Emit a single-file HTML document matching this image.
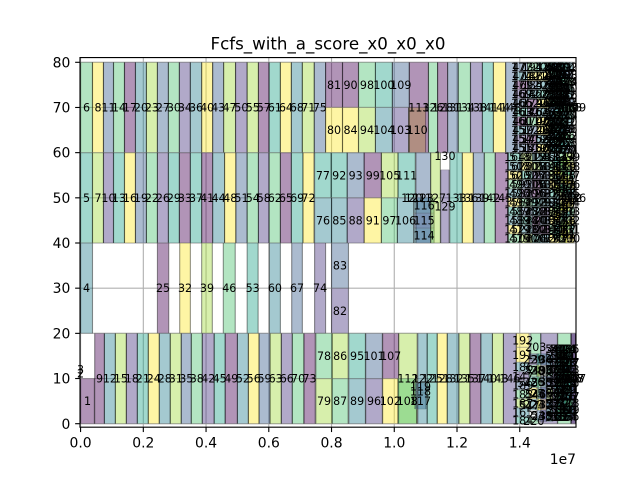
<!DOCTYPE html>
<html>
<head>
<meta charset="utf-8">
<title>Fcfs_with_a_score_x0_x0_x0</title>
<style>
html,body{margin:0;padding:0;background:#fff}
svg{display:block}
text{font-family:"DejaVu Sans","Liberation Sans",sans-serif;fill:#000}
</style>
</head>
<body>
<svg id="chart" width="640" height="480" viewBox="0 0 640 480" xmlns="http://www.w3.org/2000/svg">
<defs><clipPath id="plot-clip"><rect x="80" y="57.6" width="496" height="369.6"/></clipPath></defs>
<rect x="0" y="0" width="640" height="480" fill="#fff"/>
<g id="grid"></g>
<g id="bars" clip-path="url(#plot-clip)"></g>
<g id="labels"></g>
<g id="axes"></g>
<text x="328" y="49.5" font-size="16.67" text-anchor="middle">Fcfs_with_a_score_x0_x0_x0</text>
<text x="576" y="464" font-size="13.9" text-anchor="end">1e7</text>
</svg>
<script>
// Axis ticks
const xTicks = [0, 2, 4, 6, 8, 10, 12, 14];
const xTickLabels = ['0.0', '0.2', '0.4', '0.6', '0.8', '1.0', '1.2', '1.4'];
const yTicks = [0, 10, 20, 30, 40, 50, 60, 70, 80];
const yTickLabels = ['0', '10', '20', '30', '40', '50', '60', '70', '80'];

// Each task: [id, start (millions), end (millions), low, high, colour group]
const rowTop = [
[6,0,0.38,60,80,5],[8,0.38,0.73,60,80,7],[11,0.73,1.05,60,80,2],[14,1.05,1.40,60,80,5],[17,1.40,1.75,60,80,0],
[20,1.75,2.10,60,80,3],[23,2.10,2.45,60,80,6],[27,2.45,2.80,60,80,2],[30,2.80,3.15,60,80,5],[34,3.15,3.50,60,80,1],
[36,3.50,3.86,60,80,3],[40,3.86,4.21,60,80,7],[43,4.21,4.56,60,80,2],[47,4.56,4.94,60,80,6],[50,4.94,5.31,60,80,1],
[55,5.31,5.67,60,80,6],[57,5.67,6.01,60,80,0],[61,6.01,6.37,60,80,4],[64,6.37,6.72,60,80,7],[68,6.72,7.07,60,80,3],
[71,7.07,7.45,60,80,6],[75,7.45,7.81,60,80,2],
[81,7.81,8.35,70,80,0],[90,8.35,8.86,70,80,0],[98,8.86,9.40,70,80,5],[100,9.40,9.94,70,80,4],[109,9.94,10.48,70,80,2],
[80,7.81,8.35,60,70,7],[84,8.35,8.86,60,70,7],[94,8.86,9.40,60,70,6],[104,9.40,9.94,60,70,3],[103,9.94,10.46,60,70,1],
[110,10.46,11.0,60,70,7],[113,10.48,11.09,60,80,0],
[126,11.09,11.38,60,80,5],[128,11.38,11.70,60,80,0],[131,11.70,12.04,60,80,2],[134,12.04,12.43,60,80,5],
[138,12.43,12.81,60,80,1],[141,12.81,13.16,60,80,4],[144,13.16,13.55,60,80,7],[148,13.55,13.87,60,80,2]
];
const rowMiddle = [
[5,0,0.38,40,60,4],[7,0.38,0.73,40,60,6],[10,0.73,1.05,40,60,1],[13,1.05,1.40,40,60,4],[16,1.40,1.75,40,60,7],
[19,1.75,2.10,40,60,2],[22,2.10,2.45,40,60,5],[26,2.45,2.80,40,60,1],[29,2.80,3.15,40,60,4],[33,3.15,3.50,40,60,0],
[37,3.50,3.86,40,60,4],[41,3.86,4.21,40,60,0],[44,4.21,4.59,40,60,3],[48,4.59,4.95,40,60,7],[51,4.95,5.31,40,60,2],
[54,5.31,5.67,40,60,5],[58,5.67,6.01,40,60,1],[62,6.01,6.37,40,60,5],[65,6.37,6.72,40,60,0],[69,6.72,7.09,40,60,4],
[72,7.09,7.44,40,60,7],
[77,7.46,7.99,50,60,4],[92,7.99,8.50,50,60,4],[93,8.50,9.04,50,60,2],[99,9.04,9.59,50,60,0],[105,9.59,10.12,50,60,6],[111,10.12,10.67,50,60,4],
[76,7.46,8.00,40,50,3],[85,8.00,8.50,40,50,3],[88,8.50,9.04,40,50,1],[91,9.04,9.59,40,50,7],[97,9.59,10.10,40,50,5],[106,10.10,10.62,40,50,3],
[114,10.63,11.27,40,43.3,3],[115,10.63,11.27,43.3,46.6,2],[116,10.63,11.27,46.6,50,3],
[120,10.50,10.62,50,50,3],[121,10.60,10.74,50,50,3],[123,10.69,11.16,40,60,2],[127,11.16,11.47,40,60,6],
[130,11.48,11.75,59.3,59.3,1],[129,11.48,11.75,40,56.2,1],
[133,11.77,12.17,40,60,4],[136,12.17,12.52,40,60,7],[139,12.52,12.87,40,60,2],[142,12.87,13.22,40,60,5],[145,13.22,13.63,40,60,0]
];
const rowLower = [
[4,0,0.38,20,40,3],[25,2.45,2.81,20,40,0],[32,3.16,3.50,20,40,7],[39,3.86,4.20,20,40,6],[46,4.55,4.93,20,40,5],
[53,5.31,5.66,20,40,4],[60,6.02,6.37,20,40,3],[67,6.73,7.07,20,40,2],[74,7.46,7.81,20,40,1],
[83,8.00,8.54,30,40,2],[82,8.00,8.54,20,30,1]
];
const rowBottom = [
[1,0,0.44,0,10,0],[2,0,0,11.1,11.1,3],[3,0,0,12,12,3],
[9,0.45,0.76,0,20,0],[12,0.76,1.11,0,20,3],[15,1.11,1.46,0,20,6],[18,1.46,1.81,0,20,1],[21,1.81,2.16,0,20,4],
[24,2.16,2.51,0,20,7],[28,2.51,2.86,0,20,3],[31,2.86,3.21,0,20,6],[35,3.21,3.53,0,20,2],[38,3.53,3.88,0,20,5],
[42,3.88,4.26,0,20,1],[45,4.26,4.61,0,20,4],[49,4.61,5.00,0,20,0],[52,5.00,5.35,0,20,3],[56,5.35,5.69,0,20,7],
[59,5.69,6.04,0,20,2],[63,6.04,6.40,0,20,6],[66,6.40,6.75,0,20,1],[70,6.75,7.12,0,20,5],[73,7.12,7.48,0,20,0],
[78,7.50,8.02,10,20,5],[86,8.02,8.53,10,20,6],[95,8.55,9.08,10,20,4],[101,9.09,9.62,10,20,2],[107,9.63,10.14,10,20,0],
[79,7.50,8.02,0,10,6],[87,8.02,8.53,0,10,5],[89,8.55,9.08,0,10,3],[96,9.09,9.62,0,10,1],[102,9.63,10.12,0,10,7],
[112,10.14,10.73,0,20,6],[108,10.12,10.71,0,10,5],
[117,10.66,11.01,3.25,6.8,2],[118,10.66,11.01,6.8,7.4,2],[119,10.66,11.01,7.4,9,2],
[122,10.75,11.05,0,20,3],[125,11.05,11.37,0,20,4],[128,11.37,11.69,0,20,7],[132,11.69,12.06,0,20,3],[135,12.06,12.41,0,20,6],
[137,12.41,12.76,0,20,0],[140,12.76,13.13,0,20,3],[143,13.13,13.48,0,20,6],[146,13.48,13.89,0,20,1]
];
const denseTopLeft = [
[151,13.87,14.25,60,62,2],[178,14.25,14.55,60,62,1],[196,14.55,14.95,60,62,7],[221,14.95,15.1,60,62,3],
[154,13.87,14.25,62,64,1],[175,14.25,14.55,62,64,0],[197,14.55,14.95,62,64,3],[224,14.95,15.1,62,64,4],
[157,13.87,14.25,64,66,3],[172,14.25,14.55,64,66,2],[214,14.55,14.95,64,66,7],[227,14.95,15.1,64,66,3],
[160,13.87,14.25,66,68,0],[170,14.25,14.55,66,68,5],[198,14.55,14.95,66,68,7],[230,14.95,15.1,66,68,4],
[163,13.87,14.25,68,70,4],[176,14.25,14.55,68,70,1],[205,14.55,14.95,68,70,3],[233,14.95,15.1,68,70,3],
[166,13.87,14.25,70,72,2],[179,14.25,14.55,70,72,0],[222,14.55,14.95,70,72,7],[236,14.95,15.1,70,72,4],
[169,13.87,14.25,72,74,1],[182,14.25,14.55,72,74,3],[208,14.55,14.95,72,74,4],[239,14.95,15.1,72,74,3],
[171,13.87,14.25,74,76,0],[185,14.25,14.55,74,76,2],[209,14.55,14.95,74,76,3],[242,14.95,15.1,74,76,4],
[174,13.87,14.25,76,78,3],[188,14.25,14.55,76,78,7],[211,14.55,14.95,76,78,7],[245,14.95,15.1,76,78,3],
[177,13.87,14.25,78,80,2],[191,14.25,14.55,78,80,5],[206,14.55,14.95,78,80,4],[248,14.95,15.1,78,80,4]
];
const denseTopRight = [
[251,14.98,15.24,60,61.5,4],[252,15.11,15.37,60,61.5,3],[253,15.24,15.5,60,61.5,5],[254,15.3,15.7,60,61.5,2],
[255,14.98,15.24,61.5,63,3],[256,15.11,15.37,61.5,63,5],[257,15.24,15.5,61.5,63,2],[258,15.3,15.7,61.5,63,4],
[259,14.98,15.24,63,64.5,2],[260,15.11,15.37,63,64.5,4],[261,15.24,15.5,63,64.5,3],[262,15.3,15.7,63,64.5,5],
[263,14.98,15.24,64.5,66,5],[264,15.11,15.37,64.5,66,3],[265,15.24,15.5,64.5,66,4],[266,15.3,15.7,64.5,66,2],
[267,14.98,15.24,66,67.5,4],[268,15.11,15.37,66,67.5,2],[269,15.24,15.5,66,67.5,5],[270,15.3,15.7,66,67.5,3],
[271,14.98,15.24,67.5,69,3],[272,15.11,15.37,67.5,69,5],[273,15.24,15.5,67.5,69,2],[274,15.3,15.7,67.5,69,4],
[275,14.98,15.24,69,70.5,2],[276,15.11,15.37,69,70.5,4],[277,15.24,15.5,69,70.5,3],[278,15.3,15.7,69,70.5,5],
[279,14.98,15.24,70.5,72,5],[280,15.11,15.37,70.5,72,3],[281,15.24,15.5,70.5,72,4],[282,15.3,15.7,70.5,72,2],
[283,14.98,15.24,72,73.5,4],[284,15.11,15.37,72,73.5,2],[285,15.24,15.5,72,73.5,5],[286,15.3,15.7,72,73.5,3],
[287,14.98,15.24,73.5,75,3],[288,15.11,15.37,73.5,75,5],[289,15.24,15.5,73.5,75,2],[290,15.3,15.7,73.5,75,4],
[291,14.98,15.24,75,76.5,2],[292,15.11,15.37,75,76.5,4],[293,15.24,15.5,75,76.5,3],[294,15.3,15.7,75,76.5,5],
[295,14.98,15.24,76.5,78,5],[296,15.11,15.37,76.5,78,3],[297,15.24,15.5,76.5,78,4],[298,15.3,15.7,76.5,78,2],
[299,14.98,15.24,78,80,4],[300,15.11,15.37,78,80,2],[301,15.24,15.5,78,80,5],[302,15.3,15.7,78,80,3]
];
const denseMiddle = [
[150,13.63,14.05,40,42,5],[190,14.05,14.4,40,42,6],[204,14.4,14.65,40,42,4],[232,14.65,14.95,40,42,3],[310,14.95,15.25,40,42,7],[320,15.25,15.5,40,42,6],[330,15.45,15.73,40,42,7],
[152,13.63,14.05,42,44,7],[193,14.05,14.4,42,44,3],[207,14.4,14.65,42,44,1],[234,14.65,14.95,42,44,0],[311,14.95,15.25,42,44,5],[321,15.25,15.5,42,44,7],[331,15.45,15.73,42,44,4],
[153,13.63,14.05,44,46,3],[194,14.05,14.4,44,46,4],[210,14.4,14.65,44,46,0],[235,14.65,14.95,44,46,2],[312,14.95,15.25,44,46,7],[322,15.25,15.5,44,46,3],[332,15.45,15.73,44,46,7],
[155,13.63,14.05,46,48,4],[195,14.05,14.4,46,48,2],[212,14.4,14.65,46,48,3],[237,14.65,14.95,46,48,1],[313,14.95,15.25,46,48,6],[323,15.25,15.5,46,48,7],[333,15.45,15.73,46,48,5],
[156,13.63,14.05,48,50,7],[199,14.05,14.4,48,50,5],[213,14.4,14.65,48,50,4],[238,14.65,14.95,48,50,3],[314,14.95,15.25,48,50,3],[324,15.25,15.5,48,50,7],[334,15.45,15.73,48,50,7],
[158,13.63,14.05,50,52,3],[200,14.05,14.4,50,52,1],[215,14.4,14.65,50,52,0],[240,14.65,14.95,50,52,2],[315,14.95,15.25,50,52,4],[325,15.25,15.5,50,52,6],[335,15.45,15.73,50,52,3],
[159,13.63,14.05,52,54,5],[201,14.05,14.4,52,54,2],[216,14.4,14.65,52,54,0],[241,14.65,14.95,52,54,3],[316,14.95,15.25,52,54,7],[326,15.25,15.5,52,54,3],[336,15.45,15.73,52,54,7],
[161,13.63,14.05,54,56,7],[202,14.05,14.4,54,56,4],[217,14.4,14.65,54,56,1],[243,14.65,14.95,54,56,2],[317,14.95,15.25,54,56,6],[327,15.25,15.5,54,56,7],[337,15.45,15.73,54,56,4],
[162,13.63,14.05,56,58,3],[180,14.05,14.4,56,58,7],[218,14.4,14.65,56,58,6],[244,14.65,14.95,56,58,3],[318,14.95,15.25,56,58,5],[328,15.25,15.5,56,58,4],[338,15.45,15.73,56,58,7],
[164,13.63,14.05,58,60,4],[181,14.05,14.4,58,60,6],[219,14.4,14.65,58,60,3],[246,14.65,14.95,58,60,4],[319,14.95,15.25,58,60,3],[329,15.25,15.5,58,60,5],[339,15.45,15.73,58,60,6],
[340,15.1,15.35,41,43,4],[341,15.3,15.6,41,43,7],[342,15.1,15.35,43,45,3],[343,15.3,15.6,43,45,6],
[344,15.1,15.35,45,47,7],[345,15.3,15.6,45,47,3],[346,15.1,15.35,47,49,5],[347,15.3,15.6,47,49,7],
[348,15.1,15.35,51,53,6],[349,15.3,15.6,51,53,4],[350,15.1,15.35,53,55,3],[351,15.3,15.6,53,55,7],
[352,15.1,15.35,55,57,7],[353,15.3,15.6,55,57,5],[354,15.1,15.35,57,59,4],[355,15.3,15.6,57,59,6]
];
const denseBottomLeft = [
[192,13.89,14.3,16.9,20,7],[191,13.89,14.3,13.6,16.9,7],[186,13.89,14.3,11.5,13.6,3],[147,13.89,14.3,9.5,11.5,1],
[189,13.89,14.3,7.5,9.5,2],[183,13.89,14.3,5.5,7.5,5],[187,13.89,14.3,3.5,5.5,6],[165,13.89,14.3,1.5,3.5,3],[184,13.89,14.3,0,1.5,4],
[203,14.35,14.67,14,20,5],
[220,14.3,14.6,0,1.2,5],[223,14.3,14.6,3,5.5,3],[225,14.3,14.6,5.5,8,7],[226,14.3,14.6,8,10.5,4],[228,14.3,14.6,10.5,13,5],[229,14.3,14.6,13,15.5,1],
[231,14.55,14.85,0.5,3,2],[247,14.55,14.85,3,5.5,7],[249,14.55,14.85,5.5,8,3],[250,14.55,14.85,8,10.5,5],[303,14.55,14.85,10.5,13,6],[304,14.55,14.85,13,15.5,4],
[305,14.67,15.2,0,20,1],[306,15.21,15.63,0,20,5],[307,15.64,15.78,0,20,2],[308,15.64,15.78,0,20,0],
[356,14.85,15.05,0.5,3,4],[357,14.85,15.05,3,5.5,3],[358,14.85,15.05,5.5,8,6],[359,14.85,15.05,8,10.5,2],[360,14.85,15.05,10.5,13,5],[361,14.85,15.05,13,15.5,3]
];
const denseBottomRight = [
[362,15.1,15.34,0.8,2.3,4],[363,15.22,15.48,0.8,2.3,3],[364,15.35,15.61,0.8,2.3,5],[365,15.44,15.7,0.8,2.3,2],
[366,15.1,15.34,2.3,3.8,3],[367,15.22,15.48,2.3,3.8,5],[368,15.35,15.61,2.3,3.8,2],[369,15.44,15.7,2.3,3.8,4],
[370,15.1,15.34,3.8,5.3,2],[371,15.22,15.48,3.8,5.3,4],[372,15.35,15.61,3.8,5.3,3],[373,15.44,15.7,3.8,5.3,5],
[374,15.1,15.34,5.3,6.8,5],[375,15.22,15.48,5.3,6.8,3],[376,15.35,15.61,5.3,6.8,4],[377,15.44,15.7,5.3,6.8,2],
[378,15.1,15.34,6.8,8.3,4],[379,15.22,15.48,6.8,8.3,2],[380,15.35,15.61,6.8,8.3,5],[381,15.44,15.7,6.8,8.3,3],
[382,15.1,15.34,8.3,9.8,3],[383,15.22,15.48,8.3,9.8,5],[384,15.35,15.61,8.3,9.8,2],[385,15.44,15.7,8.3,9.8,4],
[386,15.1,15.34,9.8,11.3,2],[387,15.22,15.48,9.8,11.3,4],[388,15.35,15.61,9.8,11.3,3],[389,15.44,15.7,9.8,11.3,5],
[390,15.1,15.34,11.3,12.8,5],[391,15.22,15.48,11.3,12.8,3],[392,15.35,15.61,11.3,12.8,4],[393,15.44,15.7,11.3,12.8,2],
[394,15.1,15.34,12.8,14.3,4],[395,15.22,15.48,12.8,14.3,2],[396,15.35,15.61,12.8,14.3,5],[397,15.44,15.7,12.8,14.3,3],
[398,15.1,15.34,14.3,15.8,3],[399,15.22,15.48,14.3,15.8,5],[400,15.35,15.61,14.3,15.8,2],[401,15.44,15.7,14.3,15.8,4],
[402,15.1,15.34,15.8,17.3,2],[403,15.22,15.48,15.8,17.3,4],[404,15.35,15.61,15.8,17.3,3],[405,15.44,15.7,15.8,17.3,5]
];
const overflowLabels = [
[406,15.45,15.45,70,70,3],[407,15.55,15.55,70,70,3],[408,15.65,15.65,70,70,3],[409,15.78,15.78,70,70,3],
[410,15.45,15.45,50,50,3],[411,15.55,15.55,50,50,3],[412,15.65,15.65,50,50,3],[436,15.78,15.78,50,50,3],
[414,15.45,15.45,10,10,3],[415,15.55,15.55,10,10,3],[416,15.65,15.65,10,10,3],[417,15.78,15.78,10,10,3]
];
// Very short tasks, too thin to see a box: [id, time, time, level, level, colour group]
const thinTopRight = [
[418,15.16,15.16,60.7,60.7,3],[419,15.3,15.3,60.7,60.7,3],[420,15.44,15.44,60.7,60.7,3],
[421,15.16,15.16,62.2,62.2,3],[422,15.3,15.3,62.2,62.2,3],[423,15.44,15.44,62.2,62.2,3],
[424,15.16,15.16,63.7,63.7,3],[425,15.3,15.3,63.7,63.7,3],[426,15.44,15.44,63.7,63.7,3],
[427,15.16,15.16,65.2,65.2,3],[428,15.3,15.3,65.2,65.2,3],[429,15.44,15.44,65.2,65.2,3],
[430,15.16,15.16,66.7,66.7,3],[431,15.3,15.3,66.7,66.7,3],[432,15.44,15.44,66.7,66.7,3],
[433,15.16,15.16,68.2,68.2,3],[434,15.3,15.3,68.2,68.2,3],[435,15.44,15.44,68.2,68.2,3],
[437,15.16,15.16,71.2,71.2,3],[438,15.3,15.3,71.2,71.2,3],[439,15.44,15.44,71.2,71.2,3],
[440,15.16,15.16,72.7,72.7,3],[441,15.3,15.3,72.7,72.7,3],[442,15.44,15.44,72.7,72.7,3],
[443,15.16,15.16,74.2,74.2,3],[444,15.3,15.3,74.2,74.2,3],[445,15.44,15.44,74.2,74.2,3],
[446,15.16,15.16,75.7,75.7,3],[447,15.3,15.3,75.7,75.7,3],[448,15.44,15.44,75.7,75.7,3],
[449,15.16,15.16,77.2,77.2,3],[450,15.3,15.3,77.2,77.2,3],[451,15.44,15.44,77.2,77.2,3],
[452,15.16,15.16,78.8,78.8,3],[453,15.3,15.3,78.8,78.8,3],[454,15.44,15.44,78.8,78.8,3]
];
const thinTopLeft = [
[455,14.1,14.1,61,61,3],[456,14.6,14.6,61,61,3],[457,14.1,14.1,63,63,3],[458,14.6,14.6,63,63,3],
[459,14.1,14.1,65,65,3],[460,14.85,14.85,65,65,3],[461,14.1,14.1,67,67,3],[462,14.85,14.85,67,67,3],
[463,14.1,14.1,69,69,3],[464,14.6,14.6,69,69,3],[465,14.1,14.1,71,71,3],[466,14.85,14.85,71,71,3],
[467,14.1,14.1,73,73,3],[468,14.6,14.6,73,73,3],[469,14.1,14.1,75,75,3],[470,14.85,14.85,75,75,3],
[471,14.1,14.1,77,77,3],[472,14.6,14.6,77,77,3],[473,14.1,14.1,79,79,3],[474,14.85,14.85,79,79,3]
];
const thinMiddle = [
[475,14.0,14.0,41,41,3],[476,14.5,14.5,41,41,3],[477,14.9,14.9,41,41,3],[478,15.45,15.45,41,41,3],
[479,14.0,14.0,43,43,3],[480,14.5,14.5,43,43,3],[481,14.9,14.9,43,43,3],[482,15.45,15.45,43,43,3],
[483,14.0,14.0,45,45,3],[484,14.5,14.5,45,45,3],[485,14.9,14.9,45,45,3],[486,15.45,15.45,45,45,3],
[487,14.0,14.0,47,47,3],[488,14.5,14.5,47,47,3],[489,14.9,14.9,47,47,3],[490,15.45,15.45,47,47,3],
[491,14.0,14.0,49,49,3],[492,14.5,14.5,49,49,3],[493,14.9,14.9,49,49,3],[494,15.45,15.45,49,49,3],
[495,14.0,14.0,51,51,3],[496,14.5,14.5,51,51,3],[497,14.9,14.9,51,51,3],[498,15.45,15.45,51,51,3],
[499,14.0,14.0,53,53,3],[500,14.5,14.5,53,53,3],[501,14.9,14.9,53,53,3],[502,15.45,15.45,53,53,3],
[503,14.0,14.0,55,55,3],[504,14.5,14.5,55,55,3],[505,14.9,14.9,55,55,3],[506,15.45,15.45,55,55,3],
[507,14.0,14.0,57,57,3],[508,14.5,14.5,57,57,3],[509,14.9,14.9,57,57,3],[510,15.45,15.45,57,57,3],
[511,14.0,14.0,59,59,3],[512,14.5,14.5,59,59,3],[513,14.9,14.9,59,59,3],[514,15.45,15.45,59,59,3]
];
const thinBottom = [
[515,15.15,15.15,1.5,1.5,3],[516,15.3,15.3,1.5,1.5,3],[517,15.45,15.45,1.5,1.5,3],
[518,15.15,15.15,3,3,3],[519,15.3,15.3,3,3,3],[520,15.45,15.45,3,3,3],
[521,15.15,15.15,4.5,4.5,3],[522,15.3,15.3,4.5,4.5,3],[523,15.45,15.45,4.5,4.5,3],
[524,15.15,15.15,6,6,3],[525,15.3,15.3,6,6,3],[526,15.45,15.45,6,6,3],
[527,15.15,15.15,7.5,7.5,3],[528,15.3,15.3,7.5,7.5,3],[529,15.45,15.45,7.5,7.5,3],
[530,15.15,15.15,9,9,3],[531,15.3,15.3,9,9,3],[532,15.45,15.45,9,9,3],
[533,15.15,15.15,12,12,3],[534,15.3,15.3,12,12,3],[535,15.45,15.45,12,12,3],
[536,15.15,15.15,13.5,13.5,3],[537,15.3,15.3,13.5,13.5,3],[538,15.45,15.45,13.5,13.5,3],
[539,15.15,15.15,15,15,3],[540,15.3,15.3,15,15,3],[541,15.45,15.45,15,15,3],
[542,15.15,15.15,16.5,16.5,3],[543,15.3,15.3,16.5,16.5,3],[544,15.45,15.45,16.5,16.5,3],
[545,14.25,14.25,9,9,3],[546,14.5,14.5,6.5,6.5,3],[547,14.3,14.3,4,4,3],[548,14.7,14.7,1.8,1.8,3],[549,14.5,14.5,11.8,11.8,3]
];

const NS = 'http://www.w3.org/2000/svg';
const palette = ['#440154', '#46327e', '#365c8d', '#277f8e', '#1fa187', '#4ac16d', '#a0da39', '#fde725'];
const xScale = function (v) { return 80.57 + 31.37 * v; };
const yScale = function (v) { return 423.7 - 4.5175 * v; };

const gridGroup = document.getElementById('grid');
const axesGroup = document.getElementById('axes');
const barGroup = document.getElementById('bars');
const labelGroup = document.getElementById('labels');

function make(tag, attrs) {
  const el = document.createElementNS(NS, tag);
  Object.keys(attrs).forEach(function (k) { el.setAttribute(k, attrs[k]); });
  return el;
}

xTicks.forEach(function (t, i) {
  const px = xScale(t);
  const grid = make('line', {x1: px, x2: px, y1: 57.6, y2: 427.2, stroke: '#b0b0b0', 'stroke-width': 1.11});
  
  
  gridGroup.appendChild(grid);
  const tick = make('line', {x1: px, x2: px, y1: 427.2, y2: 432.06, stroke: '#000', 'stroke-width': 1.11});
  
  
  axesGroup.appendChild(tick);
  const label = make('text', {x: px, y: 447.5, 'font-size': 13.9, 'text-anchor': 'middle'});
  
  
  label.textContent = xTickLabels[i];
  axesGroup.appendChild(label);
});

yTicks.forEach(function (t, i) {
  const py = yScale(t);
  const grid = make('line', {x1: 80, x2: 576, y1: py, y2: py, stroke: '#b0b0b0', 'stroke-width': 1.11});
  
  
  gridGroup.appendChild(grid);
  const tick = make('line', {x1: 75.14, x2: 80, y1: py, y2: py, stroke: '#000', 'stroke-width': 1.11});
  
  
  axesGroup.appendChild(tick);
  const label = make('text', {x: 70.3, y: py + 5.05, 'font-size': 13.9, 'text-anchor': 'end'});
  
  
  label.textContent = yTickLabels[i];
  axesGroup.appendChild(label);
});

const allTasks = [].concat(rowTop, rowMiddle, rowLower, rowBottom, denseTopLeft, denseTopRight, denseMiddle, denseBottomLeft, denseBottomRight, overflowLabels, thinTopRight, thinTopLeft, thinMiddle, thinBottom);

allTasks.forEach(function (task) {
  const x0 = xScale(task[1]);
  const x1 = xScale(task[2]);
  const y0 = yScale(task[4]);
  const y1 = yScale(task[3]);
  if (x1 > x0 && y1 > y0) {
    const bar = make('rect', {x: x0, y: y0, width: x1 - x0, height: y1 - y0, fill: palette[task[5]], 'fill-opacity': 0.42});
    
    
    barGroup.appendChild(bar);
    const leftEdge = make('line', {x1: x0, x2: x0, y1: y0, y2: y1, stroke: '#000', 'stroke-opacity': 0.42, 'stroke-width': 1.11});
    
    
    barGroup.appendChild(leftEdge);
    const rightEdge = make('line', {x1: x1, x2: x1, y1: y0, y2: y1, stroke: '#000', 'stroke-opacity': 0.42, 'stroke-width': 1.11});
    
    
    barGroup.appendChild(rightEdge);
    const topEdge = make('line', {x1: x0, x2: x1, y1: y0, y2: y0, stroke: '#888', 'stroke-opacity': 0.35, 'stroke-width': 1.11});
    
    
    barGroup.appendChild(topEdge);
    const bottomEdge = make('line', {x1: x0, x2: x1, y1: y1, y2: y1, stroke: '#888', 'stroke-opacity': 0.35, 'stroke-width': 1.11});
    
    
    barGroup.appendChild(bottomEdge);
  }
  const text = make('text', {x: (x0 + x1) / 2, y: (y0 + y1) / 2 + 4.05, 'font-size': 11.1, 'text-anchor': 'middle'});
  
  
  text.textContent = String(task[0]);
  labelGroup.appendChild(text);
});

[[80, 57.6, 80, 427.2], [576, 57.6, 576, 427.2], [79.45, 57.6, 576.55, 57.6], [79.45, 427.2, 576.55, 427.2]].forEach(function (s) {
  const spine = make('line', {x1: s[0], y1: s[1], x2: s[2], y2: s[3], stroke: '#000', 'stroke-width': 1.11});
  
  
  axesGroup.appendChild(spine);
});
</script>
</body>
</html>
